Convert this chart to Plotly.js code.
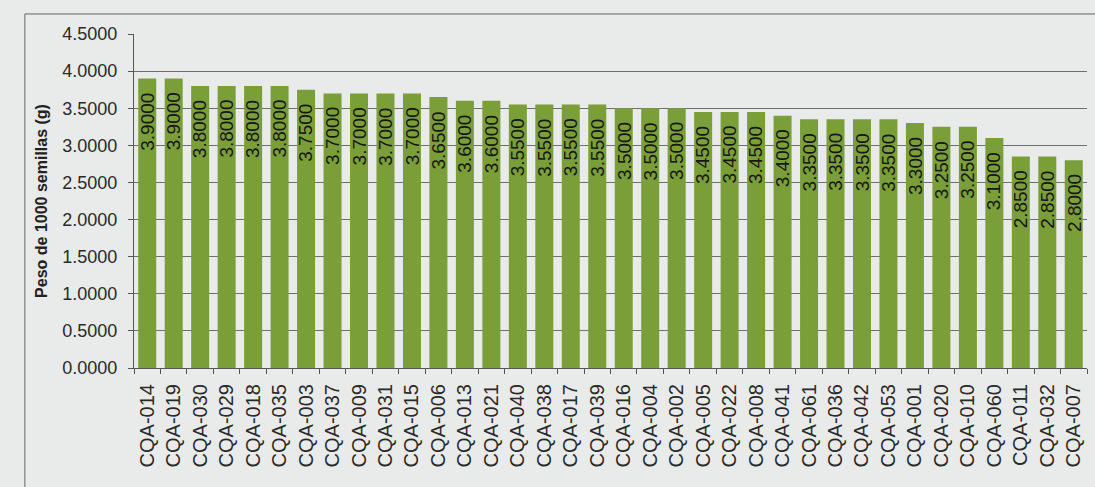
<!DOCTYPE html>
<html>
<head>
<meta charset="utf-8">
<script src="https://cdn.plot.ly/plotly-3.0.1.min.js"></script>
<style>
html,body{margin:0;padding:0;background:#e9eaea;}
#chart{width:1095px;height:487px;}
</style>
</head>
<body>
<div id="chart"></div>
<script>
const categories = ["CQA-014","CQA-019","CQA-030","CQA-029","CQA-018","CQA-035","CQA-003","CQA-037","CQA-009","CQA-031","CQA-015","CQA-006","CQA-013","CQA-021","CQA-040","CQA-038","CQA-017","CQA-039","CQA-016","CQA-004","CQA-002","CQA-005","CQA-022","CQA-008","CQA-041","CQA-061","CQA-036","CQA-042","CQA-053","CQA-001","CQA-020","CQA-010","CQA-060","CQA-011","CQA-032","CQA-007"];
const pesos = [3.90,3.90,3.80,3.80,3.80,3.80,3.75,3.70,3.70,3.70,3.70,3.65,3.60,3.60,3.55,3.55,3.55,3.55,3.50,3.50,3.50,3.45,3.45,3.45,3.40,3.35,3.35,3.35,3.35,3.30,3.25,3.25,3.10,2.85,2.85,2.80];
const yTicks = [0,0.5,1,1.5,2,2.5,3,3.5,4,4.5];
const yTitle = "Peso de 1000 semillas (g)";

const trace = {
  type: "bar",
  x: categories,
  y: pesos,
  marker: {color: "#7b9f38", line: {width: 0}},
  hoverinfo: "skip"
};

const labels = categories.map((c, i) => ({
  x: c, y: pesos[i], xref: "x", yref: "y",
  text: pesos[i].toFixed(4),
  textangle: -90,
  showarrow: false,
  xanchor: "center", yanchor: "top",
  yshift: -12,
  font: {family: "Liberation Sans, Arial, sans-serif", size: 19, color: "#161616"}
}));

const layout = {
  width: 1095, height: 487,
  margin: {l: 134, r: 8, t: 34, b: 119},
  paper_bgcolor: "#e9eaea",
  plot_bgcolor: "#e9eaea",
  bargap: 0.32,
  showlegend: false,
  font: {family: "Liberation Sans, Arial, sans-serif", color: "#333"},
  xaxis: {
    type: "category",
    tickangle: -90,
    tickfont: {size: 20, color: "#2a2a2a"},
    ticklabelstandoff: 7,
    showline: true, linecolor: "#555", linewidth: 1,
    ticks: "outside", tickson: "boundaries", ticklen: 5, tickcolor: "#555",
    showgrid: false,
    fixedrange: true
  },
  yaxis: {
    range: [0, 4.5],
    tickvals: yTicks,
    ticktext: yTicks.map(v => v.toFixed(4)),
    tickfont: {size: 18, color: "#2a2a2a"},
    ticklabelstandoff: 7,
    showline: true, linecolor: "#555", linewidth: 1,
    ticks: "outside", ticklen: 5, tickcolor: "#555",
    showgrid: true, gridcolor: "#6f6f6f", gridwidth: 1,
    zeroline: false,
    title: {text: "<b>" + yTitle + "</b>", font: {size: 16, color: "#222"}, standoff: 10},
    fixedrange: true
  },
  annotations: labels,
  shapes: [{
    type: "rect", xref: "paper", yref: "paper",
    x0: -0.1145, x1: 1.05, y0: -0.45, y1: 1.06,
    line: {color: "#666", width: 1}, fillcolor: "rgba(0,0,0,0)", layer: "below"
  }]
};

Plotly.newPlot("chart", [trace], layout, {displayModeBar: false, staticPlot: true});
</script>
</body>
</html>
